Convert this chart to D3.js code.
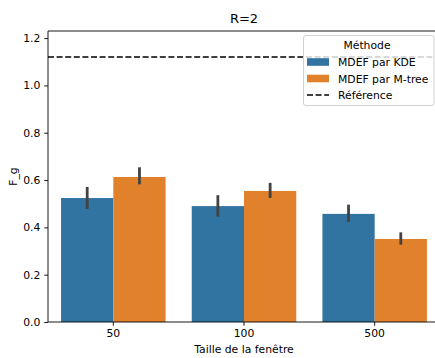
<!DOCTYPE html>
<html><head><meta charset="utf-8">
<script src="https://cdn.jsdelivr.net/npm/d3@7"></script>
<style>html,body{margin:0;padding:0;background:#fff;overflow:hidden}svg{display:block;font-family:"DejaVu Sans",sans-serif}</style>
</head><body><svg id="c" width="435" height="358"></svg>
<script>
const categories = ["50", "100", "500"];
const methods = ["MDEF par KDE", "MDEF par M-tree"];
const kdeValues = [0.524, 0.490, 0.457];
const mtreeValues = [0.613, 0.554, 0.351];
const kdeLow = [0.478, 0.445, 0.423];
const kdeHigh = [0.571, 0.536, 0.496];
const mtreeLow = [0.582, 0.524, 0.327];
const mtreeHigh = [0.654, 0.588, 0.379];
const referenceValue = 1.12;
const yTicks = [0.0, 0.2, 0.4, 0.6, 0.8, 1.0, 1.2];
const colors = ["#3274a1", "#e1812c"];

const svg = d3.select("#c");
const m = {l: 48, r: 440, t: 31, b: 322};
const x = d3.scaleBand().domain(categories).range([m.l, m.r]).paddingInner(0).paddingOuter(0);
const bw = x.bandwidth();
const xs = d3.scaleBand().domain(methods).range([0.1 * bw, 0.9 * bw]).paddingInner(0).paddingOuter(0);
const y = d3.scaleLinear().domain([0, 1.23]).range([m.b, m.t]);

const series = [
  {name: methods[0], vals: kdeValues, lo: kdeLow, hi: kdeHigh, color: colors[0]},
  {name: methods[1], vals: mtreeValues, lo: mtreeLow, hi: mtreeHigh, color: colors[1]}
];

series.forEach(s => {
  svg.append("g").selectAll("rect").data(categories).join("rect")
    .attr("x", (c) => x(c) + xs(s.name))
    .attr("y", (c, i) => y(s.vals[i]))
    .attr("width", xs.bandwidth())
    .attr("height", (c, i) => y(0) - y(s.vals[i]))
    .attr("fill", s.color);
});
series.forEach(s => {
  svg.append("g").selectAll("line").data(categories).join("line")
    .attr("x1", c => x(c) + xs(s.name) + xs.bandwidth() / 2)
    .attr("x2", c => x(c) + xs(s.name) + xs.bandwidth() / 2)
    .attr("y1", (c, i) => y(s.lo[i]))
    .attr("y2", (c, i) => y(s.hi[i]))
    .attr("stroke", "#424242").attr("stroke-width", 2.8);
});

// reference line
svg.append("line").attr("x1", m.l).attr("x2", m.r)
  .attr("y1", y(referenceValue)).attr("y2", y(referenceValue))
  .attr("stroke", "#000").attr("stroke-width", 1.6).attr("stroke-dasharray", "6,2.6");

// axes
const fs = 10.8;
const yAxis = svg.append("g").attr("transform", `translate(${m.l},0)`)
  .call(d3.axisLeft(y).tickValues(yTicks).tickFormat(d3.format(".1f")).tickSize(3.8).tickPadding(3.8));
const xAxis = svg.append("g").attr("transform", `translate(0,${m.b})`)
  .call(d3.axisBottom(x).tickSize(3.8).tickPadding(3.8));
[xAxis, yAxis].forEach(a => {
  a.select(".domain").remove();
  a.selectAll("line").attr("stroke", "#000").attr("stroke-width", 0.9);
  a.selectAll("text").attr("font-size", fs).attr("fill", "#000").attr("font-family", "DejaVu Sans");
});
// spines (right spine lies outside the canvas)
const sp = svg.append("g").attr("stroke", "#000").attr("stroke-width", 0.9).attr("fill", "none");
sp.append("line").attr("x1", m.l).attr("x2", m.r).attr("y1", m.t).attr("y2", m.t);
sp.append("line").attr("x1", m.l).attr("x2", m.r).attr("y1", m.b).attr("y2", m.b);
sp.append("line").attr("x1", m.l).attr("x2", m.l).attr("y1", m.t).attr("y2", m.b);

// labels
svg.append("text").attr("x", (m.l + m.r) / 2).attr("y", 23).attr("text-anchor", "middle")
  .attr("font-size", 13).text("R=2");
svg.append("text").attr("x", (m.l + m.r) / 2).attr("y", 353).attr("text-anchor", "middle")
  .attr("font-size", fs).text("Taille de la fenêtre");
svg.append("text").attr("transform", `translate(17,${(m.t + m.b) / 2}) rotate(-90)`)
  .attr("text-anchor", "middle").attr("font-size", fs).text("F_g");

// legend
const lg = svg.append("g");
lg.append("rect").attr("x", 303.5).attr("y", 35.5).attr("width", 130.5).attr("height", 70).attr("rx", 2.5)
  .attr("fill", "#fff").attr("fill-opacity", 0.8).attr("stroke", "#cccccc").attr("stroke-width", 0.9);
lg.append("text").attr("x", 367).attr("y", 49).attr("text-anchor", "middle").attr("font-size", fs).text("Méthode");
const entries = [
  {label: methods[0], type: "patch", color: colors[0]},
  {label: methods[1], type: "patch", color: colors[1]},
  {label: "Référence", type: "line"}
];
entries.forEach((e, i) => {
  const cy = 62 + i * 16.5;
  if (e.type === "patch") {
    lg.append("rect").attr("x", 307).attr("y", cy - 3.8).attr("width", 22).attr("height", 7.6).attr("fill", e.color);
  } else {
    lg.append("line").attr("x1", 307).attr("x2", 329).attr("y1", cy).attr("y2", cy)
      .attr("stroke", "#000").attr("stroke-width", 1.6).attr("stroke-dasharray", "6,2.6");
  }
  lg.append("text").attr("x", 338).attr("y", cy + 4).attr("font-size", fs).text(e.label);
});
</script></body></html>
